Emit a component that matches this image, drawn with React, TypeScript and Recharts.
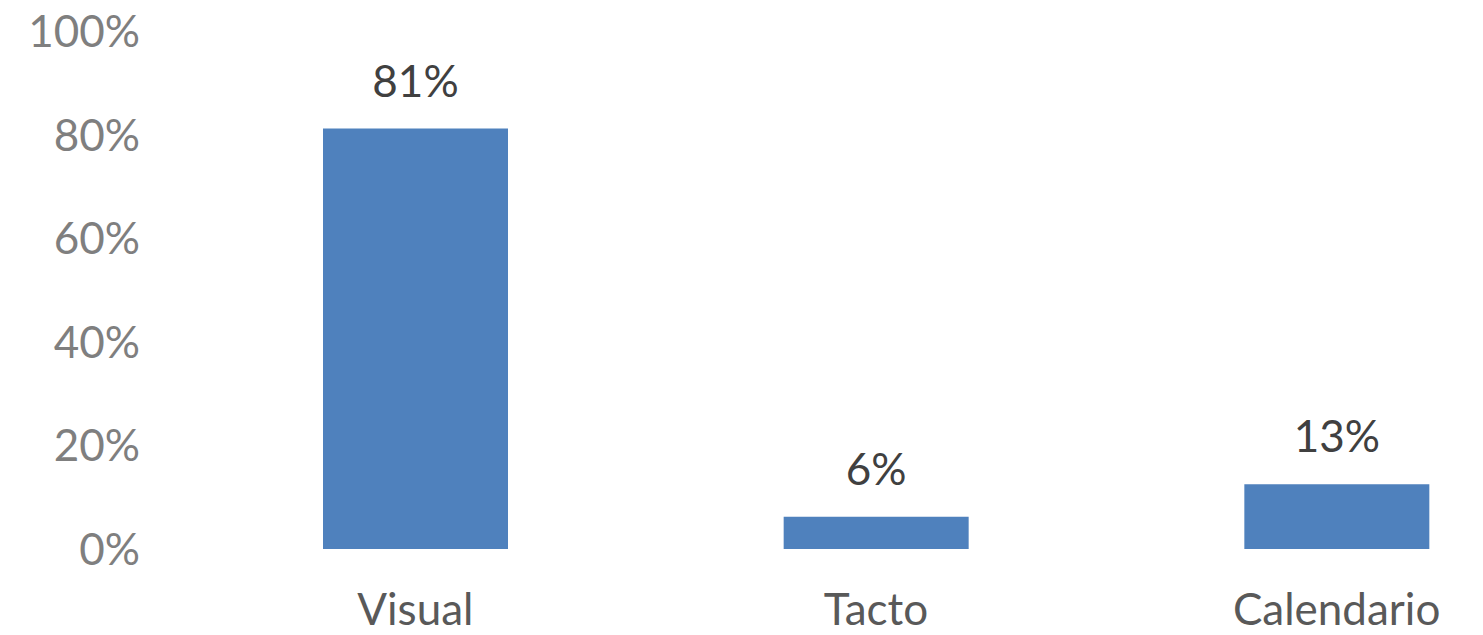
import React from "react";
import { BarChart, Bar, XAxis, YAxis, LabelList } from "recharts";

const categories = ["Visual", "Tacto", "Calendario"];
const shares = [0.8125, 0.0625, 0.125];
const yTicks = [0, 0.2, 0.4, 0.6, 0.8, 1];

const data = categories.map((name, i) => ({ name, value: shares[i] }));

const pct = (v: any) => `${Math.round(Number(v) * 100)}%`;

export default function App() {
  return (
    <div style={{ marginTop: -8, marginLeft: -8, width: 1483, height: 635, overflow: "hidden" }}>
      <BarChart
        width={1580}
        height={635}
        data={data}
        margin={{ top: 31.5, right: 13, left: 0, bottom: 0 }}
        style={{ fontFamily: "Lato" }}
      >
        <XAxis
          dataKey="name"
          axisLine={false}
          tickLine={false}
          tickSize={0}
          tickMargin={45}
          height={86}
          interval={0}
          tick={{ fill: "#595959", fontSize: 44, fontFamily: "Lato" }}
        />
        <YAxis
          domain={[0, 1]}
          ticks={yTicks}
          tickFormatter={pct}
          axisLine={false}
          tickLine={false}
          tickSize={0}
          tickMargin={45}
          width={185}
          interval={0}
          tick={{ fill: "#7f7f7f", fontSize: 44, fontFamily: "Lato" }}
        />
        <Bar dataKey="value" fill="#4f81bd" barSize={185} isAnimationActive={false}>
          <LabelList
            dataKey="value"
            position="top"
            offset={32}
            formatter={pct}
            style={{ fill: "#404040", fontSize: 44, fontFamily: "Lato" }}
          />
        </Bar>
      </BarChart>
    </div>
  );
}
